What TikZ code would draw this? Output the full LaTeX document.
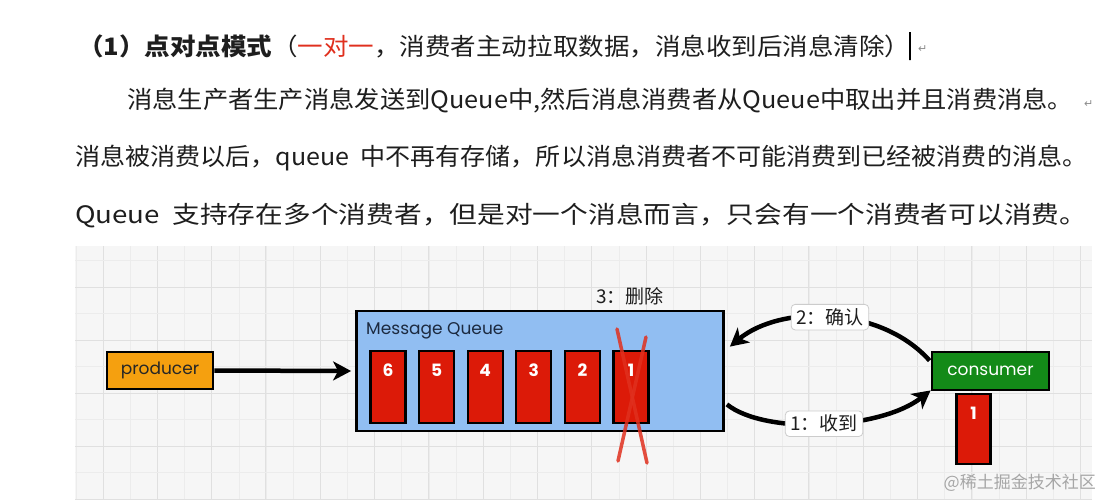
\documentclass[tikz,border=0pt]{standalone}
\usepackage{fontspec}
\usepackage{graphicx}
\setmainfont{Noto Sans CJK SC}
\newfontfamily\dia{Poppins}
\newfontfamily\symf{DejaVu Sans}
\usetikzlibrary{arrows.meta,calc}
\definecolor{gridbg}{HTML}{F6F6F6}
\definecolor{gridmin}{HTML}{ECECEC}
\definecolor{gridmaj}{HTML}{E0E0E0}
\definecolor{qblue}{HTML}{91BEF2}
\definecolor{msgred}{HTML}{DC1A08}
\definecolor{prodorange}{HTML}{F5A00F}
\definecolor{consgreen}{HTML}{138A18}
\definecolor{txtdark}{HTML}{1E1E1E}
\definecolor{titlered}{HTML}{E0301E}
\definecolor{navy}{HTML}{1C2A40}
\tikzset{
  bodytext/.style={anchor=west, inner sep=0pt, text=txtdark, font=\fontsize{24}{24}\selectfont},
  box/.style={draw=black, line width=2.8pt, inner sep=0pt},
  msgbox/.style={box, line width=2.2pt, fill=msgred, minimum width=35pt, minimum height=72pt},
  msgnum/.style={text=white, font=\dia\bfseries\fontsize{17}{17}\selectfont, inner sep=0pt},
  conn/.style={line width=4.5pt, -{Stealth[length=18pt,width=19pt,inset=5pt]}},
  steplabel/.style={fill=white, draw=black!20, rounded corners=4pt, line width=0.8pt, text=txtdark,
     font=\fontsize{19}{19}\selectfont, inner xsep=5pt, inner ysep=4pt},
  retmark/.style={text=black!45, font=\symf\fontsize{11}{11}\selectfont, inner sep=0pt}
}
\begin{document}
\begin{tikzpicture}[x=1pt,y=-1pt]
\useasboundingbox (0,0) rectangle (1103,499);
\fill[white] (0,0) rectangle (1103,499);

% ---- text ----
\node[bodytext] (title) at (78,46) {\resizebox{832pt}{\height}{{\bfseries （1）点对点模式}（\textcolor{titlered}{一对一}，消费者主动拉取数据，消息收到后消息清除）}};
\node[draw=black, line width=1.4pt, minimum height=28pt, minimum width=0pt, inner sep=0pt] (cursor) at (910,46) {};
\node[retmark, anchor=west] (ret0) at (918,49) {↵};
\node[bodytext] (line1) at (127,101) {\resizebox{946pt}{\height}{消息生产者生产消息发送到Queue中,然后消息消费者从Queue中取出并且消费消息。}};
\node[retmark, anchor=west] (ret1) at (1084,104) {↵};
\node[bodytext] (line2) at (75,158) {\resizebox{1012pt}{\height}{消息被消费以后，queue\ \ 中不再有存储，所以消息消费者不可能消费到已经被消费的消息。}};
\node[bodytext] (line3) at (75,216) {\resizebox{1012pt}{\height}{Queue\ \ 支持存在多个消费者，但是对一个消息而言，只会有一个消费者可以消费。}};

% ---- grid background ----
\fill[gridbg] (75,246) rectangle (1092,499);
\begin{scope}
\clip (75,246) rectangle (1092,499);
\foreach \i in {0,...,40} {
  \draw[gridmin, line width=0.8pt] ({76+27.15*\i},246) -- ({76+27.15*\i},499);
}
\foreach \i in {0,...,20} {
  \draw[gridmaj, line width=1pt] ({103+54.3*\i},246) -- ({103+54.3*\i},499);
}
\foreach \j in {0,...,10} {
  \draw[gridmin, line width=0.8pt] (75,{260.5+26.5*\j}) -- (1092,{260.5+26.5*\j});
}
\foreach \j in {0,...,5} {
  \draw[gridmaj, line width=1pt] (75,{287+53*\j}) -- (1092,{287+53*\j});
}
\end{scope}

% ---- nodes ----
\node[box, fill=prodorange, minimum width=106pt, minimum height=37pt, text=black!85,
      font=\dia\fontsize{17}{17}\selectfont] (producer) at (160,370.5) {producer};
\node[box, fill=qblue, minimum width=367pt, minimum height=120pt] (queue) at (540,371) {};
\node[anchor=west, inner sep=0pt, text=navy, font=\dia\fontsize{17}{17}\selectfont] (qtitle) at (366,331) {Message Queue};

\foreach \n/\k in {6/0,5/1,4/2,3/3,2/4,1/5} {
  \node[msgbox] (m\n) at ({388+48.6*\k},387) {};
  \node[msgnum] (n\n) at ({388+48.6*\k},370) {\n};
}
% red cross over message 1
\draw[titlered, opacity=0.85, line width=3.5pt, line cap=round] (617,329) -- (647,463);
\draw[titlered, opacity=0.85, line width=3.5pt, line cap=round] (646,337) -- (618,461);
\node[text=txtdark, inner sep=0pt, font=\fontsize{19}{19}\selectfont] (del) at (630,296) {3：删除};

\node[box, fill=consgreen, minimum width=117pt, minimum height=38pt, text=white,
      font=\dia\fontsize{17}{17}\selectfont] (consumer) at (990.5,371) {consumer};
\node[msgbox, minimum width=34pt, minimum height=70pt] (cm1) at (973.5,429) {};
\node[msgnum] (cn1) at (973.5,413) {1};

% ---- connectors ----
\coordinate (qin) at ($(queue.west)+(-4,0)$);
\draw[conn] (producer.east) -- (qin);

\coordinate (qack) at ($(queue.north east)+(5,37)$);
\coordinate (cack) at ($(consumer.north west)+(-1,10)$);
\draw[conn] (cack) .. controls (880,305) and (780,305) .. (qack)
  node[pos=0.5, steplabel] (ack) {2：确认};

\coordinate (qout) at ($(queue.south east)+(2,-28)$);
\coordinate (crecv) at ($(consumer.south west)+(0,-1)$);
\draw[conn] (qout) .. controls (765,435) and (880,430) .. (crecv)
  node[pos=0.5, steplabel] (recv) {1：收到};

% watermark
\node[anchor=east, inner sep=0pt, text=black!35, font=\fontsize{17}{17}\selectfont] (wm) at (1096,483) {@稀土掘金技术社区};
\end{tikzpicture}
\end{document}
